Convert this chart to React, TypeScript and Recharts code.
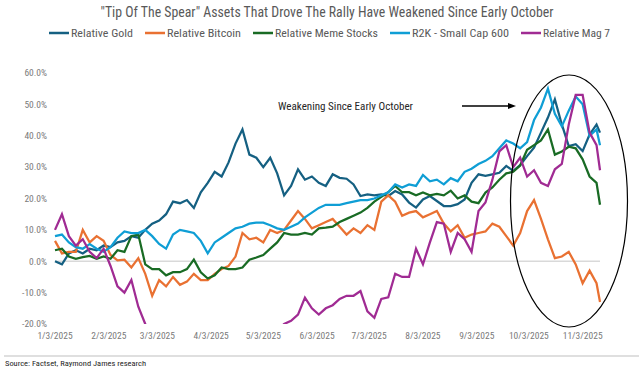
import { LineChart, Line, XAxis, YAxis, ReferenceLine } from "recharts"

// days since 1/3/2025
const days = [
  0, 4, 8, 12, 16, 20, 24, 28, 32, 36, 40, 44, 48, 52, 56, 60, 64, 68, 72, 76,
  80, 84, 88, 92, 96, 100, 104, 108, 112, 116, 120, 124, 128, 132, 136, 140, 144, 148, 152, 156,
  160, 164, 168, 172, 176, 180, 184, 188, 192, 196, 200, 204, 208, 212, 216, 220, 224, 228, 232, 236,
  240, 244, 248, 252, 256, 260, 264, 268, 272, 276, 280, 284, 288, 292, 296, 300, 304, 308, 312, 314
]

const tickDays = [0, 31, 59, 90, 120, 151, 181, 212, 243, 273, 304]
const tickLabels = [
  "1/3/2025", "2/3/2025", "3/3/2025", "4/3/2025", "5/3/2025", "6/3/2025",
  "7/3/2025", "8/3/2025", "9/3/2025", "10/3/2025", "11/3/2025"
]
const yTicks = [-20, -10, 0, 10, 20, 30, 40, 50, 60]

const gold = [
  0, -1, 2.5, 3.5, 2.5, 4, 3.5, 5, 4.5, 6, 6.5, 8, 7.5, 10, 12, 13, 15, 19, 18.5, 19.5,
  17, 22, 25, 28.5, 27, 31.5, 37.5, 42, 34, 33, 30, 33, 28, 21, 24, 29.3, 26, 27, 25, 24,
  27.7, 26.6, 26.3, 24.5, 20.8, 21.3, 21, 21.3, 20.8, 22.4, 21.3, 18.7, 17.1, 19.7, 20.8, 19.2, 17.6, 17.6, 18.2, 19.7,
  25, 27.7, 27.2, 27.7, 28.2, 30.4, 28.8, 30.6, 33.5, 36.2, 41, 45.8, 51.6, 43.6, 36.7, 37.3, 35.1, 40.4, 43.6, 41
]

const bitcoin = [
  6.5, 2.5, 3, 3, 10, 6, 8, 6.5, 2, 0.3, 0.5, -2, 1, -4, -11, -6, -8, -5, -7.5, -6.5,
  -4, -6, -6, -4, -2.5, -1.5, 1.5, 9, 7, 7.5, 6, 10, 9, 10, 13, 16, 13.5, 10.5, 11.5, 12.5,
  13.5, 11, 8.5, 10.5, 9, 11.5, 10, 19, 21, 19, 14.5, 15.5, 16, 14, 15, 16, 12, 9.5, 11.5, 7.5,
  8.5, 9, 9.5, 12, 11, 8, 5, 9, 16, 19.5, 13.5, 7, 1, 1.5, 3, -1, -7, -3, -7, -13
]

const meme = [
  3.5, 4, 1.5, 0.8, 1.3, 1.7, 0.8, 1.5, 0.8, 3.5, 3, 8, 8.5, -1, -2.5, -2.5, -4.5, -3.5, -3.5, -2.5,
  0.5, -3.5, -5.5, -4.5, -2, -2.5, -2.5, -2, 0.5, 1.2, 2, 4, 6, 9, 8.5, 8.5, 9, 8.5, 10.5, 10.7,
  11, 12.5, 13.5, 14.5, 15.5, 17, 19, 20.5, 22, 24, 22, 22, 21, 21.9, 21, 21.5, 21, 22.5, 20, 21,
  19, 18.5, 21.9, 23.5, 26, 28, 28.5, 30.5, 35.5, 37, 38.5, 42, 34, 35, 36.5, 36, 32.5, 27, 25, 18
]

const r2k = [
  8, 8.5, 6, 4.5, 4, 5.5, 4, 3, 4.5, 7.5, 9.5, 9, 9, 10, 8, 5.5, 4, 8.5, 10, 9.5,
  9, 6.5, 2.5, 6, 7.5, 9, 10.5, 11, 12, 12.3, 12.3, 11.5, 10.5, 10, 11, 12, 14, 15.5, 17, 18,
  18, 18, 18.5, 19, 19.5, 19.5, 20, 21, 22, 24.5, 23.5, 24.5, 24, 27.5, 25.5, 26, 24.5, 26.5, 25.5, 28.5,
  29.5, 31, 32, 33.5, 36, 38.5, 37.5, 36, 38, 45, 49, 55, 47, 43, 48, 52.5, 50, 40, 42, 37
]

// values under -20% fall off the bottom of the chart
const mag7 = [
  10, 15, 8, 5, 7, 3, 1, 4, -1.5, -8, -10, -6, -14.5, -20, -26, -30, -33, -31, -35, -33,
  -36, -32, -34, -30, -33, -29, -31, -27, -28, -25, -26, -24, -22, -20, -19, -17, -11.6, -15, -17, -15,
  -14, -12, -11, -11, -9.5, -16, -18, -12, -11.5, -4, -5, -5, 4, -1, 6, 12.5, 12, 3, 9, 7,
  3, 16, 18.7, 26, 35, 37, 30, 33, 27, 29, 25, 24, 29.3, 31, 43.6, 53, 53, 41, 37, 29
]

const series = [
  { key: "gold", name: "Relative Gold", color: "#156082", values: gold },
  { key: "bitcoin", name: "Relative Bitcoin", color: "#E97132", values: bitcoin },
  { key: "meme", name: "Relative Meme Stocks", color: "#196B24", values: meme },
  { key: "r2k", name: "R2K - Small Cap 600", color: "#0F9ED5", values: r2k },
  { key: "mag7", name: "Relative Mag 7", color: "#A02B93", values: mag7 },
]

const data = days.map((d, i) => {
  const row: Record<string, number> = { day: d }
  series.forEach((s) => { row[s.key] = s.values[i] })
  return row
})

const FONT = "'Liberation Sans Narrow', 'Arial Narrow', 'Roboto Condensed', 'Liberation Sans', sans-serif"
const W = 639
const H = 369

const legendWidths = [62, 74, 103, 97, 67]

function Legend() {
  let x = 49
  return (
    <g>
      {series.map((s, i) => {
        const x0 = x
        x += 22 + legendWidths[i] + 12
        return (
          <g key={s.key}>
            <line x1={x0} x2={x0 + 20} y1={33} y2={33} stroke={s.color} strokeWidth={2.5} />
            <text x={x0 + 22} y={33} dominantBaseline="central" fontSize={11.5} fill="#595959"
              textLength={legendWidths[i]} lengthAdjust="spacingAndGlyphs">{s.name}</text>
          </g>
        )
      })}
    </g>
  )
}

export default function App() {
  const tickStyle = { fontSize: 9.5, fill: "#7a7a7a", fontFamily: FONT }
  return (
    <div style={{ position: "absolute", left: 0, top: 0, width: W, height: H, background: "#fff", fontFamily: FONT }}>
      <LineChart width={W} height={H} data={data} margin={{ top: 73, right: 39, bottom: 25, left: 10 }}>
        <XAxis
          dataKey="day"
          type="number"
          domain={[0, 314]}
          ticks={tickDays}
          interval={0}
          tickFormatter={(v) => tickLabels[tickDays.indexOf(v)]}
          axisLine={false}
          tickLine={false}
          height={20}
          tick={tickStyle}
        />
        <YAxis
          domain={[-20, 60]}
          ticks={yTicks}
          allowDataOverflow
          tickFormatter={(v) => v.toFixed(1) + "%"}
          axisLine={false}
          tickLine={false}
          width={45}
          tick={tickStyle}
        />
        <ReferenceLine y={0} stroke="#d9d9d9" strokeWidth={1.5} />
        {series.map((s) => (
          <Line
            key={s.key}
            dataKey={s.key}
            name={s.name}
            type="linear"
            stroke={s.color}
            strokeWidth={2.25}
            dot={false}
            isAnimationActive={false}
          />
        ))}
      </LineChart>
      <svg width={W} height={H} style={{ position: "absolute", left: 0, top: 0, pointerEvents: "none" }}>
        <text x={327} y={12} textAnchor="middle" dominantBaseline="central" fontSize={14.5} fill="#595959"
          textLength={453} lengthAdjust="spacingAndGlyphs">
          "Tip Of The Spear" Assets That Drove The Rally Have Weakened Since Early October
        </text>
        <Legend />
        <text x={278} y={106} dominantBaseline="central" fontSize={11} fill="#262626"
          textLength={135} lengthAdjust="spacingAndGlyphs">Weakening Since Early October</text>
        <line x1={462} x2={509} y1={106} y2={106} stroke="#000" strokeWidth={1.3} />
        <polygon points="516,106 508,103 508,109" fill="#000" />
        <ellipse cx={569} cy={201} rx={58.5} ry={126} fill="none" stroke="#000" strokeWidth={1.2} />
        <line x1={4} x2={639} y1={356} y2={356} stroke="#bfbfbf" strokeWidth={1.2} />
        <text x={5} y={363} dominantBaseline="central" fontSize={8} fill="#262626"
          textLength={141} lengthAdjust="spacingAndGlyphs">Source: Factset, Raymond James research</text>
      </svg>
    </div>
  )
}
